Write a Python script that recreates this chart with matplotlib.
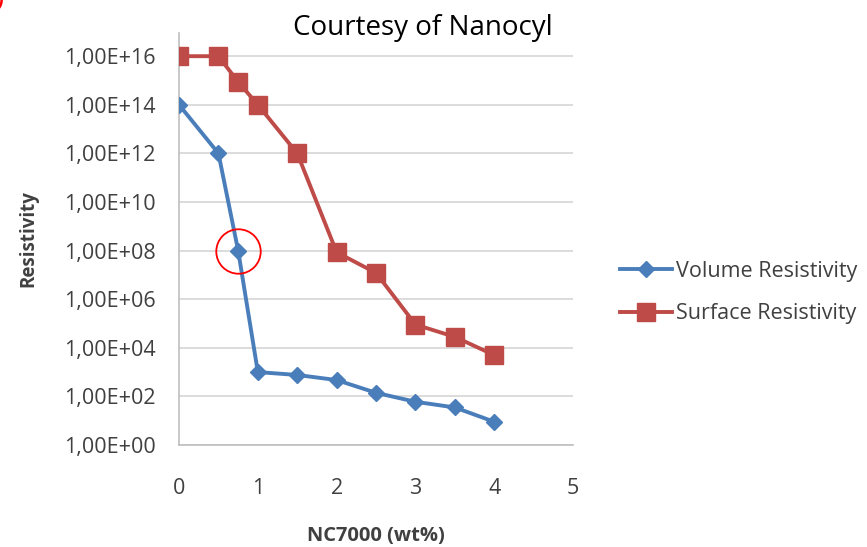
import math
import matplotlib
matplotlib.use("Agg")
import matplotlib.pyplot as plt
from matplotlib.ticker import FixedLocator, FuncFormatter

x_volume = [0, 0.5, 0.75, 1.0, 1.5, 2.0, 2.5, 3.0, 3.5, 4.0]
volume_resistivity = [1e14, 1e12, 1e8, 1e3, 7.6e2, 4.7e2, 1.4e2, 6e1, 3.5e1, 9]
x_surface = [0, 0.5, 0.75, 1.0, 1.5, 2.0, 2.5, 3.0, 3.5, 4.0]
surface_resistivity = [1e16, 1e16, 8.7e14, 1e14, 1e12, 8.5e7, 1.2e7, 9e4, 2.8e4, 5e3]
highlight_x = [0.75]
highlight_y = [1e8]
y_ticks = [10.0 ** p for p in range(0, 17, 2)]
x_ticks = [0, 1, 2, 3, 4, 5]

plt.rcParams['font.family'] = ['Open Sans', 'DejaVu Sans']

fig = plt.figure(figsize=(8.67, 5.47), dpi=100)
ax = fig.add_axes([0.2065, 0.1865, 0.4545, 0.7530])

blue = '#4A7EBB'
red = '#BE4B48'
ax.plot(x_volume, volume_resistivity, color=blue, lw=2.8, marker='D',
        markersize=8, label='Volume Resistivity', zorder=3)
ax.plot(x_surface, surface_resistivity, color=red, lw=2.8, marker='s',
        markersize=13, label='Surface Resistivity', zorder=3)
ax.plot(highlight_x, highlight_y, linestyle='none', marker='o', markersize=32,
        markerfacecolor='none', markeredgecolor='red', markeredgewidth=1.3, zorder=4)

ax.set_yscale('log')
ax.set_ylim(1, 10 ** 16.95)
ax.set_xlim(0, 5)
ax.yaxis.set_major_locator(FixedLocator(y_ticks))
ax.yaxis.set_minor_locator(FixedLocator([]))
ax.yaxis.set_major_formatter(FuncFormatter(lambda v, p: '1,00E+%02d' % round(math.log10(v))))
ax.set_xticks(x_ticks)
ax.grid(axis='y', color='#D9D9D9', lw=1.3)
ax.set_axisbelow(True)
for s in ['top', 'right']:
    ax.spines[s].set_visible(False)
for s in ['left', 'bottom']:
    ax.spines[s].set_color('#BFBFBF')
    ax.spines[s].set_linewidth(1.2)
ax.tick_params(axis='both', length=0, labelsize=15.5, labelcolor='#404040')
ax.tick_params(axis='y', pad=17)
ax.tick_params(axis='x', pad=24)

ax.set_ylabel('Resistivity', fontsize=13.5, fontweight='bold', color='#404040', labelpad=18)
ax.set_xlabel('NC7000 (wt%)', fontsize=14.5, fontweight='bold', color='#404040', labelpad=19)

fig.text(0.488, 0.948, 'Courtesy of Nanocyl', fontsize=20, ha='center', va='center', color='black')
fig.text(-0.004, 0.995, ')', fontsize=14, color='red', fontweight='bold', fontstyle='italic',
         ha='left', va='center')

leg = ax.legend(loc='center left', bbox_to_anchor=(1.07, 0.37), frameon=False,
                fontsize=15.5, handlelength=2.4, labelspacing=1.0, handletextpad=0.2)
for t in leg.get_texts():
    t.set_color('#404040')

fig.savefig('out.png', dpi=100)
